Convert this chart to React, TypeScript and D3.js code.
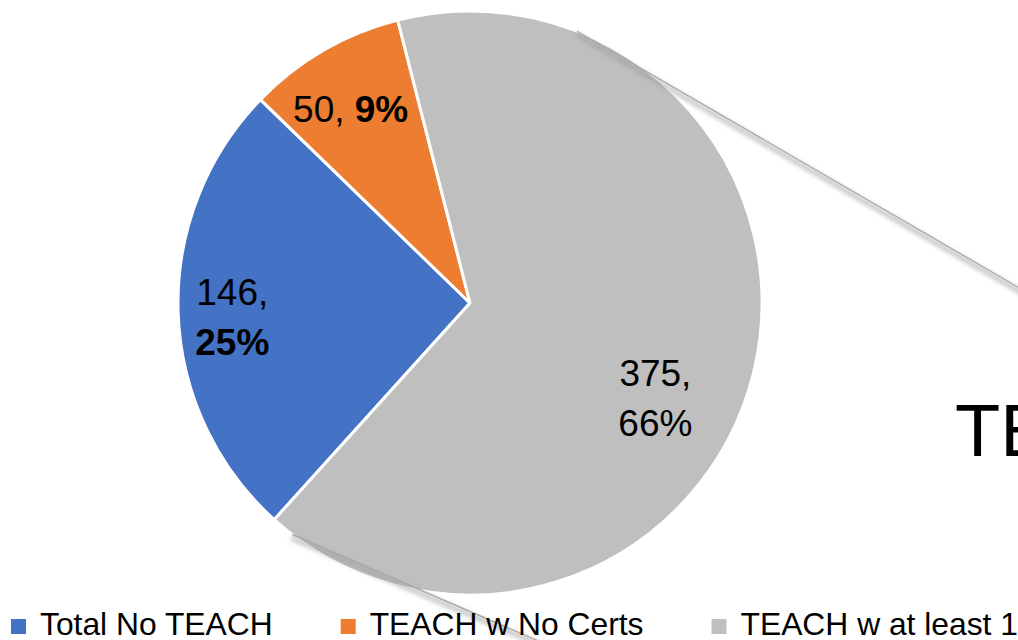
import React, { useEffect, useRef } from "react";
import * as d3 from "d3";

const categories = ["Total No TEACH", "TEACH w No Certs", "TEACH w at least 1"];
const counts = [146, 50, 375];
const percentLabels = ["25%", "9%", "66%"];
const colors = ["#4472C4", "#ED7D31", "#BFBFBF"];
const titleText = "TEACH";

const App: React.FC = () => {
  const svgRef = useRef<SVGSVGElement | null>(null);

  const width = 1018;
  const height = 640;
  const cx = 470;
  const cy = 303;
  const radius = 292;
  const startDeg = 222.1;

  useEffect(() => {
    const svg = d3.select(svgRef.current);
    svg.selectAll("*").remove();

    const font = "'Liberation Sans', Arial, sans-serif";

    const defs = svg.append("defs");
    defs
      .append("filter")
      .attr("id", "blur")
      .attr("x", "-20%")
      .attr("y", "-20%")
      .attr("width", "140%")
      .attr("height", "140%")
      .append("feGaussianBlur")
      .attr("stdDeviation", 2.2);

    const start = (startDeg * Math.PI) / 180;
    const pie = d3
      .pie<number>()
      .value((d) => d)
      .sort(null)
      .startAngle(start)
      .endAngle(start + 2 * Math.PI);
    const arc = d3.arc<d3.PieArcDatum<number>>().innerRadius(0).outerRadius(radius);
    const arcs = pie(counts);

    const g = svg.append("g").attr("transform", `translate(${cx},${cy})`);

    g.selectAll("path")
      .data(arcs)
      .join("path")
      .attr("d", arc as any)
      .attr("fill", (_, i) => colors[i])
      .attr("stroke", "#fff")
      .attr("stroke-width", 3)
      .attr("stroke-linejoin", "miter");

    // connector lines with soft shadow, starting on the pie rim
    const connectors = [
      { at: 21.5, slope: 0.58, len: 520 },
      { at: 217.5, slope: 0.432, len: 300 },
    ];
    connectors.forEach((c) => {
      const a = (c.at * Math.PI) / 180;
      const x0 = cx + radius * Math.sin(a);
      const y0 = cy - radius * Math.cos(a);
      const dir = Math.atan(c.slope);
      const x1 = x0 + c.len * Math.cos(dir);
      const y1 = y0 + c.len * Math.sin(dir);
      svg
        .append("line")
        .attr("x1", x0 - 1)
        .attr("y1", y0 + 3)
        .attr("x2", x1 - 1)
        .attr("y2", y1 + 3)
        .attr("stroke", "#9a9a9a")
        .attr("stroke-width", 5)
        .attr("opacity", 0.55)
        .attr("filter", "url(#blur)");
      svg
        .append("line")
        .attr("x1", x0)
        .attr("y1", y0)
        .attr("x2", x1)
        .attr("y2", y1)
        .attr("stroke", "#a6a6a6")
        .attr("stroke-width", 1.2);
    });

    // data labels: radius ratio + angle nudge per slice, Excel-like "best fit"
    const placement = [
      { r: 0.815, nudge: -1, lines: true, boldSecond: true },
      { r: 0.78, nudge: -1.5, lines: false, boldSecond: true },
      { r: 0.71, nudge: 12.7, lines: true, boldSecond: false },
    ];
    arcs.forEach((d, i) => {
      const p = placement[i];
      const mid = (d.startAngle + d.endAngle) / 2 + (p.nudge * Math.PI) / 180;
      const lx = cx + radius * p.r * Math.sin(mid);
      const ly = cy - radius * p.r * Math.cos(mid);
      const t = svg
        .append("text")
        .attr("x", lx)
        .attr("text-anchor", "middle")
        .attr("font-family", font)
        .attr("font-size", 37)
        .attr("fill", "#000");
      if (p.lines) {
        t.attr("y", ly - 10);
        t.append("tspan").attr("x", lx).text(`${counts[i]},`);
        t.append("tspan")
          .attr("x", lx)
          .attr("dy", 50)
          .attr("font-weight", p.boldSecond ? "bold" : "normal")
          .text(percentLabels[i]);
      } else {
        t.attr("y", ly + 13);
        t.append("tspan").text(`${counts[i]}, `);
        t.append("tspan")
          .attr("font-weight", p.boldSecond ? "bold" : "normal")
          .text(percentLabels[i]);
      }
    });

    // title, cut off by the right edge as in the source slide
    svg
      .append("text")
      .attr("x", 955)
      .attr("y", 456)
      .attr("font-family", font)
      .attr("font-size", 74)
      .attr("fill", "#000")
      .text(titleText);

    // legend
    const legend = svg.append("g").attr("transform", `translate(11, 619)`);
    let x = 0;
    categories.forEach((c, i) => {
      const item = legend.append("g").attr("transform", `translate(${x},0)`);
      item
        .append("rect")
        .attr("width", 15)
        .attr("height", 15)
        .attr("fill", colors[i]);
      const txt = item
        .append("text")
        .attr("x", 29)
        .attr("y", 16)
        .attr("font-family", font)
        .attr("font-size", 31.8)
        .attr("fill", "#000")
        .text(c);
      const w = (txt.node() as SVGTextElement).getComputedTextLength();
      x += 29 + w + 68;
    });
  }, []);

  return (
    <svg
      ref={svgRef}
      width={width}
      height={height}
      style={{ position: "absolute", left: 0, top: 0, background: "#fff" }}
    />
  );
};

export default App;
